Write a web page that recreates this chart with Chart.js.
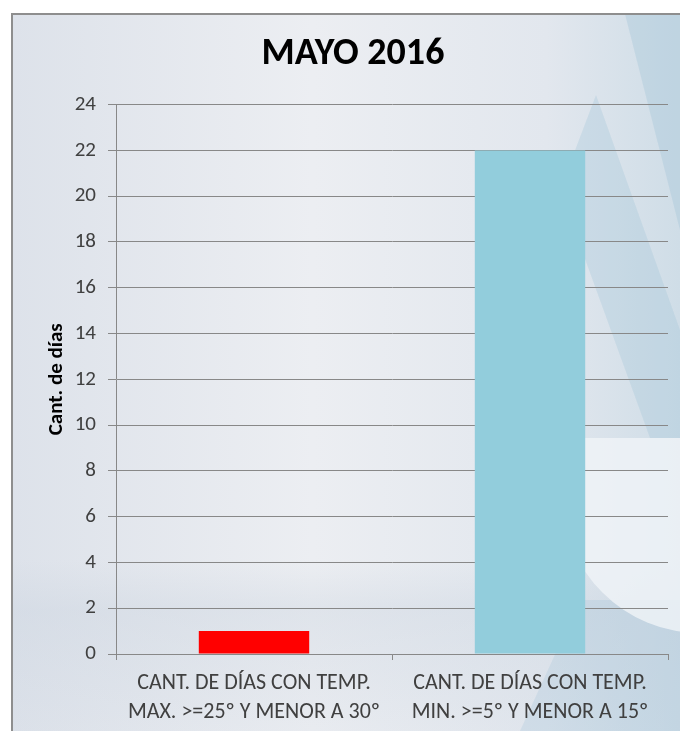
<!DOCTYPE html>
<html>
<head>
<meta charset="utf-8">
<script src="https://cdn.jsdelivr.net/npm/chart.js@4.4.1/dist/chart.umd.min.js"></script>
<style>
  html, body { margin: 0; padding: 0; background: #fff; }
  #wrap { width: 680px; height: 731px; }
</style>
</head>
<body>
<div id="wrap"><canvas id="myBarChart"></canvas></div>
<script>
// MAYO 2016 - cantidad de dias

var categorias = [
  ["CANT. DE DÍAS CON TEMP.", "MAX. >=25º Y MENOR A 30º"],
  ["CANT. DE DÍAS CON TEMP.", "MIN. >=5º Y MENOR A 15º"]
];
var dias = [1, 22];
var colores = ["#ff0000", "#92cddc"];
var yTicks = [0, 2, 4, 6, 8, 10, 12, 14, 16, 18, 20, 22, 24];

Chart.defaults.font.family = "Carlito, Lato, 'Open Sans', sans-serif";

// fondo con marco gris y marca de agua
var fondo = {
  id: "fondo",
  beforeDraw: function (chart) {
    var c = chart.ctx, w = chart.width, h = chart.height;
    c.save();
    c.fillStyle = "#ffffff";
    c.fillRect(0, 0, w, h);
    var g = c.createLinearGradient(12, 0, w, 0);
    g.addColorStop(0, "#dde2ea");
    g.addColorStop(0.45, "#eceef2");
    g.addColorStop(0.8, "#e2e7ee");
    g.addColorStop(1, "#cfdde7");
    c.fillStyle = g;
    c.fillRect(12, 14, w - 12, h - 14);
    var g2 = c.createLinearGradient(0, 560, 0, h);
    g2.addColorStop(0, "rgba(200,210,222,0)");
    g2.addColorStop(0.3, "rgba(200,210,222,0.35)");
    g2.addColorStop(1, "rgba(200,210,222,0.1)");
    c.fillStyle = g2;
    c.fillRect(12, 560, w - 12, h - 560);
    // marca de agua
    c.fillStyle = "rgba(170,200,218,0.3)";
    c.beginPath();
    c.moveTo(520, h); c.lineTo(580, 600); c.lineTo(w, 600); c.lineTo(w, h); c.closePath();
    c.fill();
    c.save();
    c.beginPath();
    c.rect(0, 438, w, h - 438);
    c.clip();
    c.fillStyle = "rgba(240,244,247,0.8)";
    c.beginPath();
    c.arc(700, 495, 138, 0, Math.PI * 2);
    c.fill();
    c.restore();
    c.fillStyle = "rgba(160,196,214,0.35)";
    c.beginPath();
    c.moveTo(625, 14); c.lineTo(w, 14); c.lineTo(w, 230); c.closePath();
    c.fill();
    c.fillStyle = "rgba(160,196,214,0.3)";
    c.beginPath();
    c.moveTo(596, 95); c.lineTo(w, 330); c.lineTo(w, 438); c.lineTo(650, 438); c.lineTo(560, 190); c.closePath();
    c.fill();
    c.strokeStyle = "#8e8e8e";
    c.lineWidth = 2;
    c.beginPath();
    c.moveTo(12, h); c.lineTo(12, 14); c.lineTo(w, 14);
    c.stroke();
    c.restore();
  }
};

var ctx = document.getElementById("myBarChart").getContext("2d");
var myBarChart = new Chart(ctx, {
  type: "bar",
  data: {
    labels: categorias,
    datasets: [{
      data: dias,
      backgroundColor: colores,
      borderWidth: 0,
      barPercentage: 0.4,
      categoryPercentage: 1
    }]
  },
  options: {
    responsive: true,
    maintainAspectRatio: false,
    animation: false,
    layout: { padding: { left: 38, right: 12, top: 0, bottom: 0 } },
    plugins: {
      legend: { display: false },
      tooltip: { enabled: false },
      title: {
        display: true,
        text: "MAYO 2016",
        color: "#000",
        font: { size: 38, weight: "bold" },
        padding: { top: 32, bottom: 27 }
      }
    },
    scales: {
      x: {
        afterFit: function (s) { s.height = 77; },
        grid: { drawOnChartArea: false, drawTicks: true, tickLength: 6, color: "#888" },
        border: { color: "#888", width: 1 },
        ticks: { color: "#404040", font: { size: 22, lineHeight: 1.32 }, padding: 9, maxRotation: 0 }
      },
      y: {
        min: 0,
        max: 24,
        afterFit: function (s) { s.width = 78; },
        afterBuildTicks: function (s) { s.ticks = yTicks.map(function (v) { return { value: v }; }); },
        grid: { color: "#888", tickLength: 8 },
        border: { color: "#888", width: 1 },
        ticks: { color: "#404040", font: { size: 21 }, padding: 12 },
        title: {
          display: true,
          text: "Cant. de días",
          color: "#000",
          font: { size: 21, weight: "bold" },
          padding: { top: 6, bottom: 0 }
        }
      }
    }
  },
  plugins: [fondo]
});
</script>
</body>
</html>
